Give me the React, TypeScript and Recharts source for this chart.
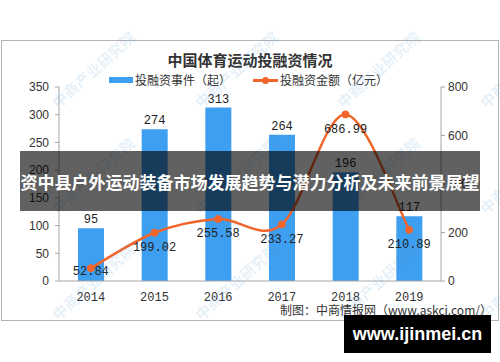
import React from "react";
import { ComposedChart, Bar, Line, XAxis, YAxis, LabelList } from "recharts";

const years = ["2014", "2015", "2016", "2017", "2018", "2019"];
const eventCounts = [95, 274, 313, 264, 196, 117];
const amounts = [52.84, 199.02, 255.58, 233.27, 686.99, 210.89];
const leftTicks = [0, 50, 100, 150, 200, 250, 300, 350];
const rightTicks = [0, 200, 400, 600, 800];
const edgeTicks = [0, 1, 2, 3, 4, 5, 6];

const data = years.map((year, i) => ({ year, events: eventCounts[i], amount: amounts[i] }));

const BLUE = "#3e9ef0";
const ORANGE = "#f2652a";
const AXIS = "#a6a6a6";
const MONO = "'Liberation Mono', 'DejaVu Sans Mono', monospace";

// Excel-style smoothing (uniform Catmull-Rom as cubic beziers)
function excelCurve(context: any) {
  let pts: number[][] = [];
  return {
    areaStart() {},
    areaEnd() {},
    lineStart() {
      pts = [];
    },
    point(x: number, y: number) {
      pts.push([+x, +y]);
    },
    lineEnd() {
      if (!pts.length) return;
      context.moveTo(pts[0][0], pts[0][1]);
      for (let i = 0; i < pts.length - 1; i++) {
        const p0 = pts[i - 1] || pts[i];
        const p1 = pts[i];
        const p2 = pts[i + 1];
        const p3 = pts[i + 2] || p2;
        context.bezierCurveTo(
          p1[0] + (p2[0] - p0[0]) / 6,
          p1[1] + (p2[1] - p0[1]) / 6,
          p2[0] - (p3[0] - p1[0]) / 6,
          p2[1] - (p3[1] - p1[1]) / 6,
          p2[0],
          p2[1]
        );
      }
    },
  };
}

function AmountLabel(props: any) {
  const { x, y, value, index } = props;
  const dy = index === 0 ? 4 : 15;
  return (
    <text x={x} y={y + dy} textAnchor="middle" dominantBaseline="middle" fontFamily={MONO} fontSize={12} fill="#222">
      {value}
    </text>
  );
}

const watermarkRows = [102, 208, 314];
const watermarkCols = [60, 203, 345, 488];

export default function App() {
  return (
    <div
      style={{
        position: "absolute",
        left: 0,
        top: 0,
        width: 500,
        height: 362,
        background: "#fff",
        overflow: "hidden",
        fontFamily: "'Liberation Sans', Arial, sans-serif",
      }}
    >
      {/* frame */}
      <div
        style={{
          position: "absolute",
          left: 1,
          top: 40,
          width: 496,
          height: 279,
          border: "1px solid #b4b4b4",
        }}
      />
      <div
        style={{
          position: "absolute",
          left: 0,
          width: 500,
          top: 50,
          textAlign: "center",
          fontSize: 15,
          fontWeight: "bold",
          color: "#333",
          fontFamily: "'Noto Sans CJK SC', sans-serif",
          lineHeight: "20px",
        }}
      >
        中国体育运动投融资情况
      </div>
      {/* legend */}
      <div
        style={{
          position: "absolute",
          top: 72,
          left: 109,
          display: "flex",
          alignItems: "center",
          fontSize: 12,
          color: "#333",
          fontFamily: "'Noto Sans CJK SC', sans-serif",
          lineHeight: "16px",
        }}
      >
        <span style={{ width: 24, height: 6, background: BLUE, display: "inline-block", marginRight: 2 }} />
        <span>投融资事件（起）</span>
        <span style={{ position: "relative", width: 25, height: 10, display: "inline-block", marginLeft: 22, marginRight: 2 }}>
          <span style={{ position: "absolute", left: 0, top: 4, width: 25, height: 2.5, background: ORANGE }} />
          <span style={{ position: "absolute", left: 9, top: 2, width: 7, height: 7, borderRadius: 4, background: ORANGE }} />
        </span>
        <span>投融资金额（亿元）</span>
      </div>

      <div style={{ position: "absolute", left: 0, top: 0 }}>
        <ComposedChart width={500} height={362} data={data} margin={{ top: 87, right: 19, bottom: 51, left: 19 }}>
          <XAxis
            xAxisId="edge"
            type="number"
            domain={[0, 6]}
            ticks={edgeTicks}
            tick={false}
            axisLine={false}
            tickLine={{ stroke: AXIS }}
            tickSize={4}
            height={0}
            allowDataOverflow
          />
          <XAxis
            xAxisId="cat"
            dataKey="year"
            height={30}
            axisLine={{ stroke: AXIS }}
            tickLine={false}
            tickSize={0}
            tickMargin={11}
            tick={{ fill: "#333", fontSize: 12, fontFamily: MONO }}
          />
          <YAxis
            yAxisId="l"
            width={40}
            domain={[0, 350]}
            ticks={leftTicks}
            tickSize={4}
            tickMargin={6}
            axisLine={{ stroke: AXIS }}
            tickLine={{ stroke: AXIS }}
            tick={{ fill: "#333", fontSize: 12 }}
            interval={0}
          />
          <YAxis
            yAxisId="r"
            orientation="right"
            width={40}
            domain={[0, 800]}
            ticks={rightTicks}
            tickSize={4}
            tickMargin={3}
            axisLine={{ stroke: AXIS }}
            tickLine={{ stroke: AXIS }}
            tick={{ fill: "#333", fontSize: 12 }}
            interval={0}
          />
          <Bar xAxisId="cat" yAxisId="l" dataKey="events" fill={BLUE} barSize={26} isAnimationActive={false}>
            <LabelList dataKey="events" position="top" offset={5} fontFamily={MONO} fontSize={12} fill="#222" />
          </Bar>
          <Line
            xAxisId="cat"
            yAxisId="r"
            dataKey="amount"
            type={excelCurve as any}
            stroke={ORANGE}
            strokeWidth={2.5}
            dot={{ r: 3.5, fill: ORANGE, stroke: ORANGE, strokeWidth: 1 }}
            isAnimationActive={false}
          >
            <LabelList dataKey="amount" content={AmountLabel} />
          </Line>
        </ComposedChart>
      </div>

      {/* faint watermarks */}
      {watermarkRows.map((y) =>
        watermarkCols.map((x) => (
          <div
            key={x + "-" + y}
            style={{
              position: "absolute",
              left: x - 6,
              top: y - 8,
              transform: "rotate(-42deg)",
              transformOrigin: "0 50%",
              whiteSpace: "nowrap",
              fontSize: 15,
              fontWeight: "bold",
              color: "rgba(90,160,220,0.16)",
              fontFamily: "'Noto Sans CJK SC', sans-serif",
              pointerEvents: "none",
            }}
          >
            中商产业研究院
          </div>
        ))
      )}

      {/* overlay band */}
      <div
        style={{
          position: "absolute",
          left: 20,
          top: 151,
          width: 460,
          height: 60,
          background: "rgba(0,0,0,0.62)",
          color: "#fff",
          fontSize: 17,
          fontWeight: "bold",
          display: "flex",
          alignItems: "center",
          justifyContent: "center",
          fontFamily: "'Noto Sans CJK SC', sans-serif",
          whiteSpace: "nowrap",
        }}
      >
        资中县户外运动装备市场发展趋势与潜力分析及未来前景展望
      </div>

      <div
        style={{
          position: "absolute",
          left: 280,
          top: 302,
          fontSize: 12,
          color: "#333",
          lineHeight: "16px",
          fontFamily: "'Noto Sans CJK SC', sans-serif",
          whiteSpace: "nowrap",
        }}
      >
        制图：中商情报网（www.askci.com/）
      </div>

      <div
        style={{
          position: "absolute",
          left: 344,
          top: 315,
          width: 147,
          height: 38,
          background: "#000",
          color: "#fff",
          fontSize: 18,
          fontWeight: "bold",
          display: "flex",
          alignItems: "center",
          justifyContent: "center",
        }}
      >
        www.ijinmei.cn
      </div>
    </div>
  );
}
